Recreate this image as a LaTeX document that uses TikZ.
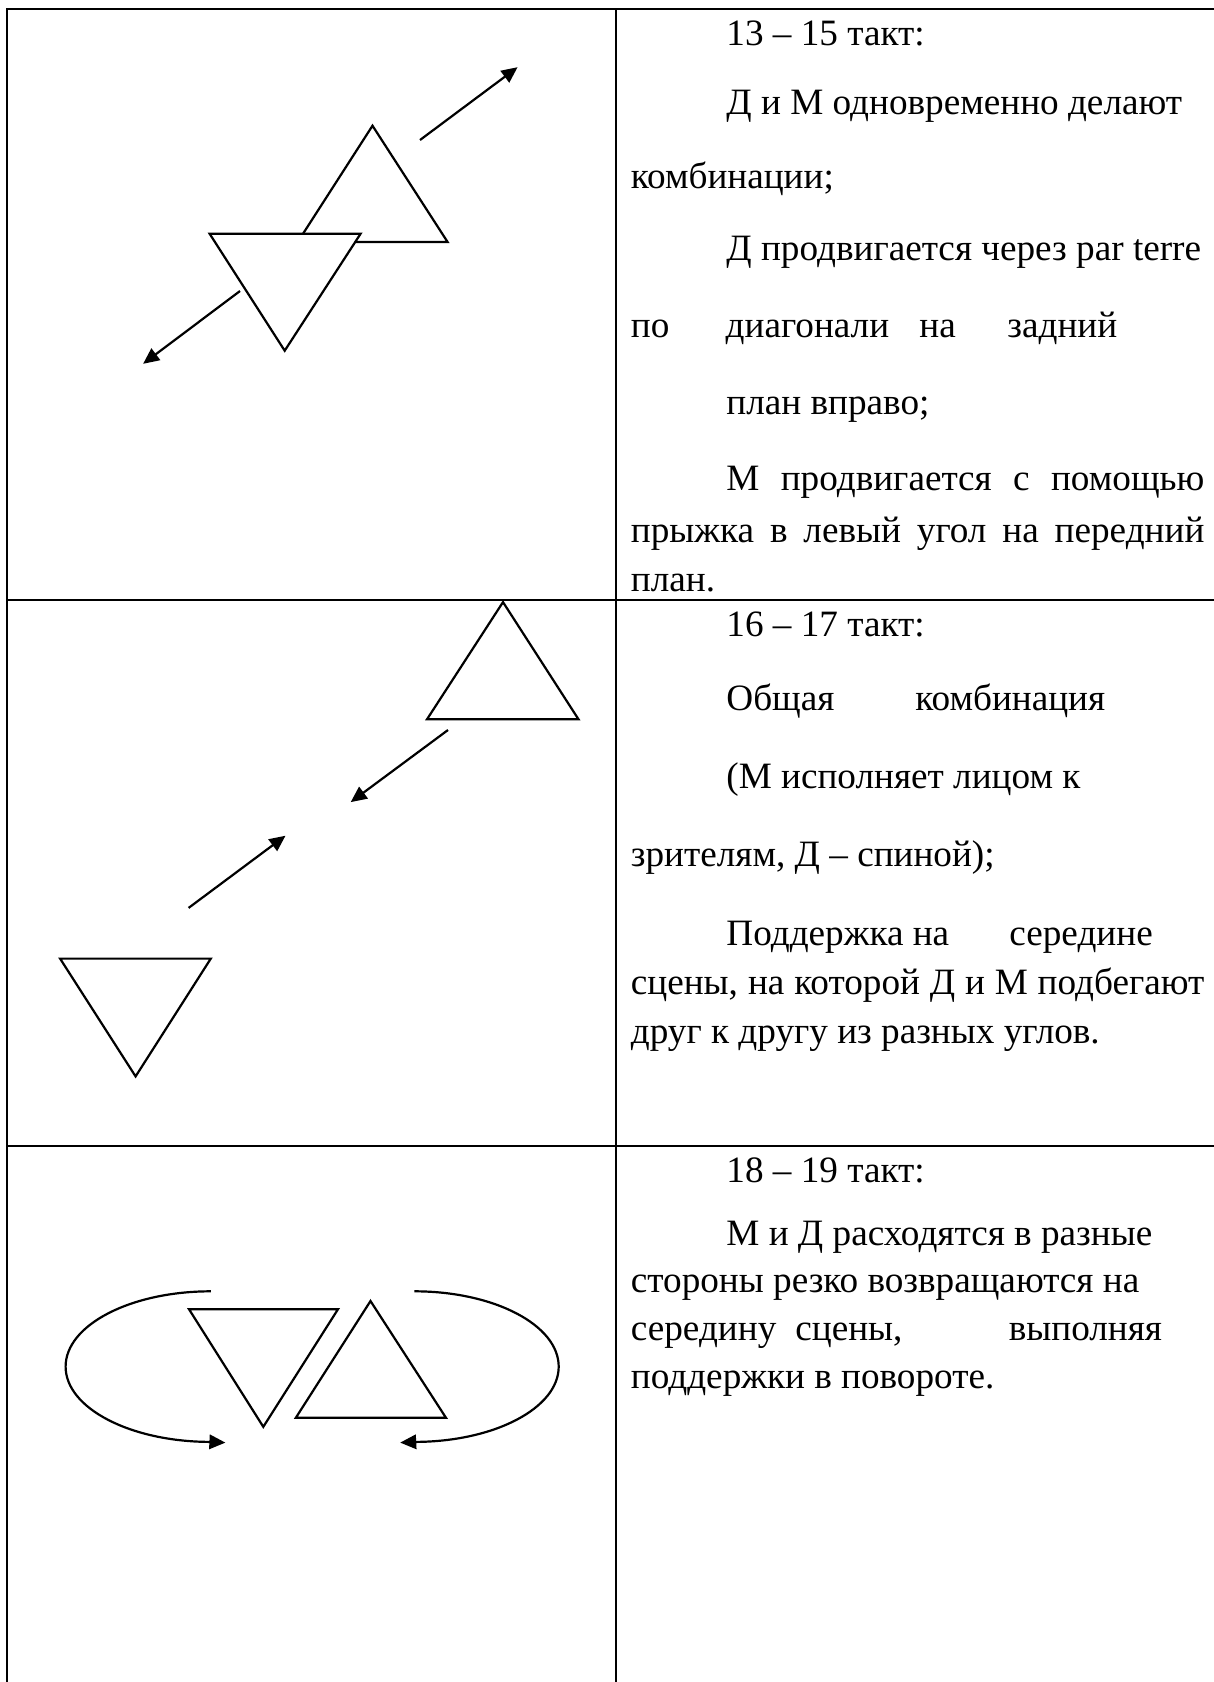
\documentclass[tikz,border=0pt]{standalone}
\usepackage{fontspec}
\setmainfont{Liberation Serif}
\usetikzlibrary{arrows.meta}

\begin{document}
\begin{tikzpicture}[x=0.5pt,y=-0.5pt,>={Triangle[length=8pt,width=7.2pt]},
  txt/.style={anchor=base west,inner sep=0pt,font=\fontsize{18.6}{22}\selectfont},
  rule/.style={line width=1.1pt},
  fig/.style={line width=1.1pt},
  mv/.style={line width=1.1pt,->}]
\useasboundingbox (0,0) rectangle (1214,1682);
% table
\draw[rule] (6.7,1682)--(6.7,9)--(1214,9); \draw[rule] (616,9)--(616,1682);
\draw[rule] (6.7,600)--(1214,600); \draw[rule] (6.7,1146)--(1214,1146);
% row 1: 13--15
\draw[fig] (372.5,125.7)--(447.6,242)--(297.7,242)--cycle;
\draw[fig,fill=white] (209.6,233.7)--(360.6,233.7)--(284.7,350.7)--cycle;
\coordinate (a1s) at (420,140); \coordinate (a1e) at (517.6,67.2);
\coordinate (a2s) at (240,291); \coordinate (a2e) at (143.1,363.8);
\draw[mv] (a1s)--(a1e); \draw[mv] (a2s)--(a2e);
\node[txt] (t1) at (726,45) {13 – 15 такт:};
\node[txt] (t1a) at (726,114) {Д и М одновременно делают};
\node[txt] (t1b) at (630.5,188.7) {комбинации;};
\node[txt] (t1c) at (726,260.4) {Д продвигается через par terre};
\node[txt] (t1d) at (630.5,337.5) {по}; \node[txt] (t1e) at (725.3,337.5) {диагонали};
\node[txt] (t1f) at (919,337.5) {на}; \node[txt] (t1g) at (1007,337.5) {задний};
\node[txt] (t1h) at (726,414.3) {план вправо;};
\node[txt] (t1i) at (726,490) {\makebox[239pt][s]{М продвигается с помощью}};
\node[txt] (t1j) at (630.5,542) {\makebox[286.75pt][s]{прыжка в левый угол на передний}};
\node[txt] (t1k) at (630.5,591) {план.};
% row 2: 16--17
\draw[fig] (503,602.1)--(578.5,719.3)--(427,719.3)--cycle;
\draw[fig] (60.1,958.6)--(210.8,958.6)--(135.6,1076.4)--cycle;
\coordinate (b1s) at (448,730); \coordinate (b1e) at (350.7,802.1);
\coordinate (b2s) at (188.6,907.9); \coordinate (b2e) at (285.5,835.7);
\draw[mv] (b1s)--(b1e); \draw[mv] (b2s)--(b2e);
\node[txt] (t2) at (726,636.5) {16 – 17 такт:};
\node[txt] (t2a) at (726,710.5) {Общая}; \node[txt] (t2b) at (915,710.5) {комбинация};
\node[txt] (t2c) at (726,788.5) {(М исполняет лицом к};
\node[txt] (t2d) at (630.5,866) {зрителям, Д – спиной);};
\node[txt] (t2e) at (726,945) {Поддержка на}; \node[txt] (t2f) at (1009,945) {середине};
\node[txt] (t2g) at (630.5,994) {\makebox[286.75pt][s]{сцены, на которой Д и М подбегают}};
\node[txt] (t2h) at (630.5,1043) {друг к другу из разных углов.};
% row 3: 18--19
\draw[fig] (189,1309.2)--(338,1309.2)--(263.3,1426.8)--cycle;
\draw[fig] (370.5,1301)--(446,1417.8)--(295.8,1417.8)--cycle;
\coordinate (c1e) at (225.4,1442.6); \coordinate (c2e) at (400.2,1442.6);
\draw[mv] (210.8,1291.3) arc[start angle=90,end angle=270,x radius=72.6pt,y radius=37.65pt]--(c1e);
\draw[mv] (414.4,1291.3) arc[start angle=90,end angle=-90,x radius=72.15pt,y radius=37.65pt]--(c2e);
\node[txt] (t3) at (726,1182) {18 – 19 такт:};
\node[txt] (t3a) at (726,1245) {М и Д расходятся в разные};
\node[txt] (t3b) at (630.5,1292) {стороны резко возвращаются на};
\node[txt] (t3c) at (630.5,1340) {середину}; \node[txt] (t3d) at (795,1340) {сцены,};
\node[txt] (t3e) at (1008.4,1340) {выполняя};
\node[txt] (t3f) at (630.5,1388) {поддержки в повороте.};
\end{tikzpicture}
\end{document}
